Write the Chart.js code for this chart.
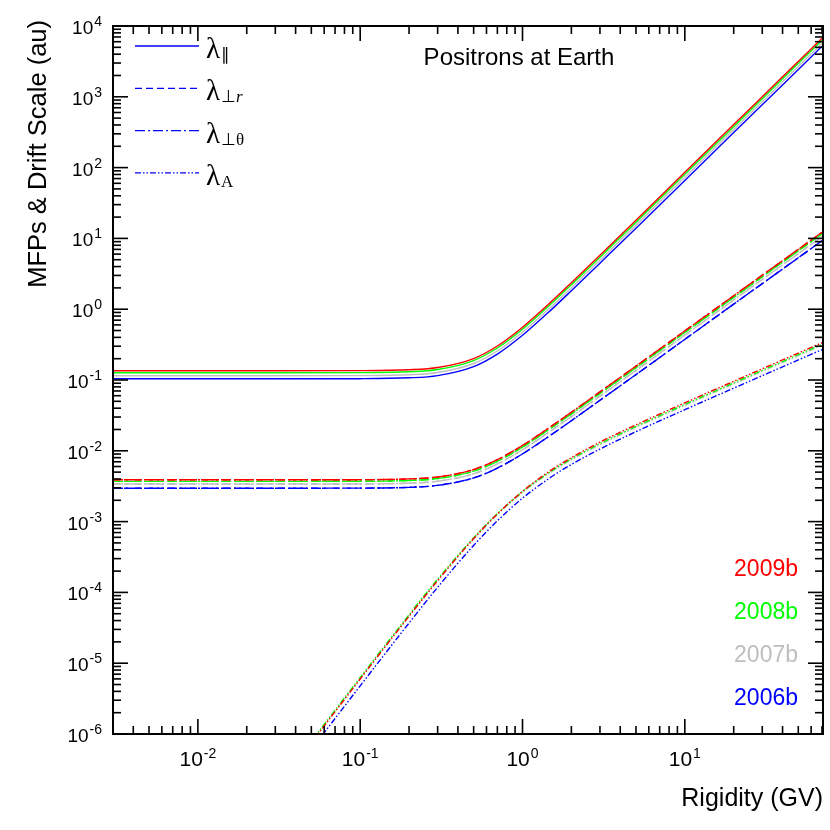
<!DOCTYPE html>
<html><head><meta charset="utf-8">
<script src="https://cdn.jsdelivr.net/npm/chart.js@4/dist/chart.umd.min.js"></script>
<style>html,body{margin:0;padding:0;background:#fff}canvas{display:block}</style>
</head><body>
<canvas id="c" width="830" height="830"></canvas>
<script>
// Rigidity grid (GV)
const rigidity = [0.003, 0.03, 0.1, 0.2, 0.3, 0.5, 0.7, 1, 1.5, 2, 3, 5, 10, 20, 40, 70];
const years = ['2009b', '2008b', '2007b', '2006b'];
const yearColors = ['#ff0000', '#00ff00', '#bebebe', '#0000ff'];

// lambda parallel (au)
const lamPar_2009b = [0.135, 0.135, 0.1356, 0.1395, 0.150, 0.201, 0.302, 0.557, 1.27, 2.37, 5.8, 18.1, 85.7, 405, 1912, 6700];
const lamPar_2008b = [0.1265, 0.1265, 0.1271, 0.1307, 0.1406, 0.1883, 0.283, 0.522, 1.19, 2.22, 5.43, 16.96, 80.3, 379, 1792, 6278];
const lamPar_2007b = [0.1148, 0.1148, 0.1153, 0.1186, 0.1275, 0.1709, 0.2567, 0.4735, 1.08, 2.01, 4.93, 15.4, 72.8, 344, 1625, 5695];
const lamPar_2006b = [0.104, 0.104, 0.1044, 0.1074, 0.1155, 0.1548, 0.2325, 0.4289, 0.978, 1.825, 4.47, 13.9, 66.0, 312, 1472, 5159];

// lambda perpendicular radial (au)
const lamPerpR_2009b = [0.0039, 0.0039, 0.00391, 0.00401, 0.00427, 0.00544, 0.00749, 0.0119, 0.0221, 0.035, 0.068, 0.157, 0.494, 1.55, 4.86, 12.2];
const lamPerpR_2008b = [0.003705, 0.003705, 0.003715, 0.00381, 0.004057, 0.005168, 0.007116, 0.0113, 0.021, 0.03325, 0.0646, 0.149, 0.469, 1.47, 4.62, 11.6];
const lamPerpR_2007b = [0.003393, 0.003393, 0.003402, 0.003489, 0.003715, 0.004733, 0.006516, 0.01035, 0.01923, 0.03045, 0.0592, 0.1366, 0.430, 1.35, 4.23, 10.6];
const lamPerpR_2006b = [0.002964, 0.002964, 0.002972, 0.003048, 0.003245, 0.004134, 0.005692, 0.009044, 0.0168, 0.0266, 0.0517, 0.1193, 0.375, 1.18, 3.69, 9.27];

// lambda perpendicular polar (au) - overlaps the radial one
const lamPerpT_2009b = [0.0039, 0.0039, 0.00391, 0.00401, 0.00427, 0.00544, 0.00749, 0.0119, 0.0221, 0.035, 0.068, 0.157, 0.494, 1.55, 4.86, 12.2];
const lamPerpT_2008b = [0.003705, 0.003705, 0.003715, 0.00381, 0.004057, 0.005168, 0.007116, 0.0113, 0.021, 0.03325, 0.0646, 0.149, 0.469, 1.47, 4.62, 11.6];
const lamPerpT_2007b = [0.003393, 0.003393, 0.003402, 0.003489, 0.003715, 0.004733, 0.006516, 0.01035, 0.01923, 0.03045, 0.0592, 0.1366, 0.430, 1.35, 4.23, 10.6];
const lamPerpT_2006b = [0.002964, 0.002964, 0.002972, 0.003048, 0.003245, 0.004134, 0.005692, 0.009044, 0.0168, 0.0266, 0.0517, 0.1193, 0.375, 1.18, 3.69, 9.27];

// drift scale lambda A (au)
const lamA_2009b = [1.6e-10, 1.63e-7, 5.99e-6, 4.61e-5, 1.47e-4, 5.76e-4, 1.284e-3, 2.68e-3, 5.33e-3, 8.01e-3, 0.01323, 0.02326, 0.0476, 0.0958, 0.192, 0.336];
const lamA_2008b = [1.68e-10, 1.71e-7, 6.29e-6, 4.84e-5, 1.54e-4, 5.9e-4, 1.29e-3, 2.65e-3, 5.15e-3, 7.7e-3, 0.0126, 0.0221, 0.0452, 0.091, 0.1824, 0.319];
const lamA_2007b = [1.6e-10, 1.63e-7, 5.99e-6, 4.61e-5, 1.46e-4, 5.65e-4, 1.25e-3, 2.58e-3, 5.0e-3, 7.45e-3, 0.0122, 0.0214, 0.0438, 0.0881, 0.1766, 0.309];
const lamA_2006b = [1.28e-10, 1.30e-7, 4.79e-6, 3.69e-5, 1.18e-4, 4.61e-4, 1.027e-3, 2.14e-3, 4.26e-3, 6.41e-3, 0.01058, 0.0186, 0.0381, 0.0766, 0.1536, 0.269];

const xTickExponents = [-2, -1, 0, 1];
const yTickExponents = [-6, -5, -4, -3, -2, -1, 0, 1, 2, 3, 4];

const quantities = [
  { name: 'par',   series: [lamPar_2009b, lamPar_2008b, lamPar_2007b, lamPar_2006b], dash: [] },
  { name: 'perpR', series: [lamPerpR_2009b, lamPerpR_2008b, lamPerpR_2007b, lamPerpR_2006b], dash: [7, 4] },
  { name: 'perpT', series: [lamPerpT_2009b, lamPerpT_2008b, lamPerpT_2007b, lamPerpT_2006b], dash: [10, 3, 2, 3] },
  { name: 'drift', series: [lamA_2009b, lamA_2008b, lamA_2007b, lamA_2006b], dash: [6, 2, 1.5, 2, 1.5, 2] }
];

const datasets = [];
years.forEach((yr, yi) => {
  quantities.forEach(q => {
    datasets.push({
      label: q.name + ' ' + yr,
      data: rigidity.map((r, i) => ({ x: r, y: q.series[yi][i] })),
      borderColor: yearColors[yi],
      borderWidth: 1.4,
      borderDash: q.dash,
      pointRadius: 0,
      fill: false,
      cubicInterpolationMode: 'monotone'
    });
  });
});

function supLabel(ctx, base, exp, x, y, align, baseFont, expFont, expRaise) {
  ctx.font = baseFont;
  const wb = ctx.measureText(base).width;
  ctx.font = expFont;
  const we = ctx.measureText(exp).width;
  const total = wb + we + 1;
  let x0 = align === 'center' ? x - total / 2 : x - total;
  ctx.textAlign = 'left';
  ctx.textBaseline = 'alphabetic';
  ctx.font = baseFont;
  ctx.fillText(base, x0, y);
  ctx.font = expFont;
  ctx.fillText(exp, x0 + wb + 1, y - expRaise);
}

const framePlugin = {
  id: 'frame',
  afterDraw(chart) {
    const { ctx, chartArea: a, scales } = chart;
    const xs = scales.x, ys = scales.y;
    ctx.save();
    ctx.strokeStyle = '#000';
    ctx.fillStyle = '#000';
    ctx.lineWidth = 1.6;
    ctx.setLineDash([]);
    const seg = (x1, y1, x2, y2) => { ctx.beginPath(); ctx.moveTo(x1, y1); ctx.lineTo(x2, y2); ctx.stroke(); };
    // x ticks
    for (let d = -3; d <= 2; d++) {
      for (let m = 1; m <= 9; m++) {
        const v = m * Math.pow(10, d);
        if (v < xs.min * 0.9999 || v > xs.max * 1.0001) continue;
        const px = xs.getPixelForValue(v);
        const len = m === 1 ? 15 : 8;
        seg(px, a.bottom, px, a.bottom - len);
        seg(px, a.top, px, a.top + len);
      }
    }
    for (let d = -7; d <= 4; d++) {
      for (let m = 1; m <= 9; m++) {
        const v = m * Math.pow(10, d);
        if (v < ys.min * 0.9999 || v > ys.max * 1.0001) continue;
        const py = ys.getPixelForValue(v);
        const len = m === 1 ? 15 : 8;
        seg(a.left, py, a.left + len, py);
        seg(a.right, py, a.right - len, py);
      }
    }
    ctx.lineWidth = 2;
    ctx.strokeRect(a.left, a.top, a.right - a.left, a.bottom - a.top);

    // tick labels
    xTickExponents.forEach(e => {
      const px = xs.getPixelForValue(Math.pow(10, e));
      supLabel(ctx, '10', String(e), px, 766, 'center', '21px "Liberation Sans", Arial, sans-serif', '14px "Liberation Sans", Arial, sans-serif', 8);
    });
    yTickExponents.forEach(e => {
      const py = ys.getPixelForValue(Math.pow(10, e));
      supLabel(ctx, '10', String(e), 102, py + 8, 'right', '19px "Liberation Sans", Arial, sans-serif', '14px "Liberation Sans", Arial, sans-serif', 8);
    });

    // axis titles
    ctx.font = '25px "Liberation Sans", Arial, sans-serif';
    ctx.textAlign = 'right';
    ctx.textBaseline = 'alphabetic';
    ctx.fillText('Rigidity (GV)', a.right, 806);
    ctx.save();
    ctx.translate(46, 20);
    ctx.rotate(-Math.PI / 2);
    ctx.font = '25.5px "Liberation Sans", Arial, sans-serif';
    ctx.textAlign = 'right';
    ctx.fillText('MFPs & Drift Scale (au)', 0, 0);
    ctx.restore();

    // title text
    ctx.textAlign = 'center';
    ctx.font = '24px "Liberation Sans", Arial, sans-serif';
    ctx.fillText('Positrons at Earth', 519, 65);

    // year labels
    ctx.textAlign = 'right';
    ctx.font = '23px "Liberation Sans", Arial, sans-serif';
    const yb = [576, 619, 662, 705];
    years.forEach((yr, i) => { ctx.fillStyle = yearColors[i]; ctx.fillText(yr, 798, yb[i]); });

    // legend
    const rows = [
      { dash: [], parts: [['∥', 'n']] },
      { dash: [7, 4], parts: [['⊥', 'n'], ['r', 'i']] },
      { dash: [10, 3, 2, 3], parts: [['⊥θ', 'n']] },
      { dash: [6, 2, 1.5, 2, 1.5, 2], parts: [['A', 'n']] }
    ];
    rows.forEach((r, i) => {
      const ly = 46 + i * 42.3;
      ctx.strokeStyle = '#0000ff';
      ctx.lineWidth = 1.3;
      ctx.setLineDash(r.dash);
      seg(135, ly, 199, ly);
      ctx.setLineDash([]);
      ctx.fillStyle = '#000';
      ctx.textAlign = 'left';
      ctx.font = '29px "Liberation Serif", "Times New Roman", serif';
      ctx.fillText('λ', 206, ly + 12);
      let sx = 206 + ctx.measureText('λ').width + 1;
      r.parts.forEach(p => {
        ctx.font = (p[1] === 'i' ? 'italic ' : '') + '17px "Liberation Serif", "Times New Roman", serif';
        ctx.fillText(p[0], sx, ly + 14);
        sx += ctx.measureText(p[0]).width;
      });
    });
    ctx.restore();
  }
};

new Chart(document.getElementById('c'), {
  type: 'line',
  data: { datasets },
  options: {
    responsive: false,
    animation: false,
    devicePixelRatio: 1,
    layout: { padding: { top: 26, right: 7, left: 0, bottom: 0 } },
    plugins: { legend: { display: false }, tooltip: { enabled: false } },
    scales: {
      x: {
        type: 'logarithmic', min: 0.003, max: 71,
        ticks: { display: false },
        grid: { display: false, drawTicks: false },
        border: { display: false },
        afterFit(s) { s.height = 96; }
      },
      y: {
        type: 'logarithmic', min: 1e-6, max: 1e4,
        ticks: { display: false },
        grid: { display: false, drawTicks: false },
        border: { display: false },
        afterFit(s) { s.width = 113; }
      }
    }
  },
  plugins: [framePlugin]
});
</script>
</body></html>
